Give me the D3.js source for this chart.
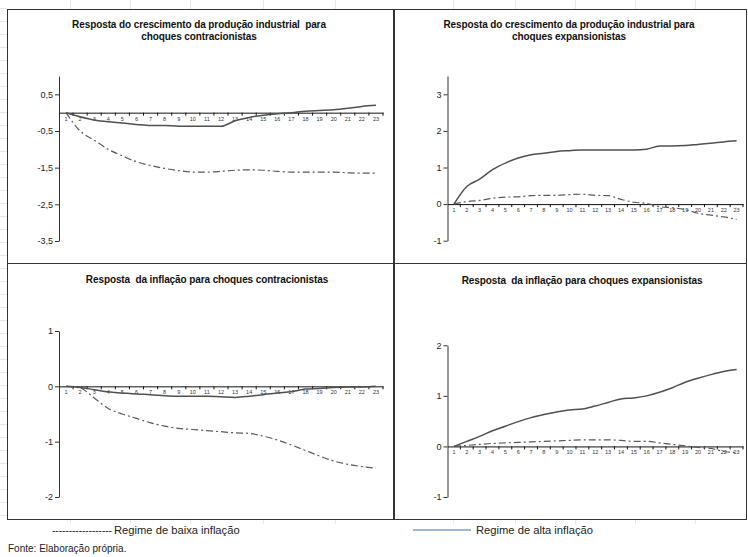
<!DOCTYPE html>
<html>
<head>
<meta charset="utf-8">
<script src="https://cdn.jsdelivr.net/npm/d3@7"></script>
<style>
  body { margin: 0; background: #fff; }
  svg { display: block; font-family: "Liberation Sans", Arial, sans-serif; }
  .ttl { white-space: pre; }
</style>
</head>
<body>
<div id="chart"></div>
<script>
// periods (categories on the x axis)
const periods = [1, 2, 3, 4, 5, 6, 7, 8, 9, 10, 11, 12, 13, 14, 15, 16, 17, 18, 19, 20, 21, 22, 23];

// produção industrial, choques contracionistas
const prodContrAlta  = [0, -0.11, -0.2, -0.25, -0.28, -0.32, -0.35, -0.35, -0.37, -0.37, -0.37, -0.37, -0.22, -0.13, -0.07, -0.03, 0, 0.04, 0.06, 0.08, 0.12, 0.17, 0.2];
const prodContrBaixa = [0, -0.5, -0.75, -1.0, -1.18, -1.34, -1.44, -1.52, -1.58, -1.62, -1.62, -1.6, -1.57, -1.56, -1.57, -1.6, -1.62, -1.62, -1.62, -1.62, -1.64, -1.65, -1.65];
const prodContrTicks = [0.5, -0.5, -1.5, -2.5, -3.5];

// produção industrial, choques expansionistas
const prodExpAlta  = [0, 0.48, 0.68, 0.94, 1.12, 1.26, 1.35, 1.39, 1.44, 1.46, 1.48, 1.48, 1.48, 1.48, 1.48, 1.5, 1.59, 1.59, 1.6, 1.63, 1.66, 1.7, 1.73];
const prodExpBaixa = [0, 0.07, 0.1, 0.16, 0.19, 0.2, 0.23, 0.24, 0.24, 0.26, 0.27, 0.24, 0.23, 0.13, 0.05, 0.02, -0.07, -0.1, -0.15, -0.25, -0.3, -0.35, -0.42];
const prodExpTicks = [3, 2, 1, 0, -1];

// inflação, choques contracionistas
const inflContrAlta  = [0, -0.02, -0.06, -0.1, -0.12, -0.14, -0.15, -0.17, -0.18, -0.18, -0.18, -0.19, -0.2, -0.18, -0.15, -0.12, -0.1, -0.05, -0.04, -0.02, -0.01, -0.01, 0];
const inflContrBaixa = [0, -0.03, -0.21, -0.4, -0.5, -0.58, -0.66, -0.72, -0.76, -0.78, -0.8, -0.82, -0.84, -0.85, -0.9, -0.97, -1.06, -1.16, -1.26, -1.35, -1.41, -1.45, -1.48];
const inflContrTicks = [1, 0, -1, -2];

// inflação, choques expansionistas
const inflExpAlta  = [0, 0.1, 0.2, 0.31, 0.4, 0.49, 0.57, 0.63, 0.68, 0.72, 0.74, 0.8, 0.87, 0.94, 0.96, 1.0, 1.07, 1.16, 1.27, 1.35, 1.42, 1.48, 1.52];
const inflExpBaixa = [0, 0.02, 0.04, 0.06, 0.07, 0.08, 0.09, 0.1, 0.11, 0.12, 0.13, 0.13, 0.13, 0.12, 0.1, 0.1, 0.07, 0.04, 0.01, -0.02, -0.04, -0.1, -0.12];
const inflExpTicks = [2, 1, 0, -1];

const width = 748, height = 557;
const svg = d3.select("#chart").append("svg")
  .attr("width", width).attr("height", height);

// faint spreadsheet gridlines behind the boxes
const bg = svg.append("g").attr("stroke", "#e8e8e8").attr("stroke-width", 1);
[70, 130, 190, 263, 335, 453, 515, 575, 635, 695].forEach(x => {
  bg.append("line").attr("x1", x + 0.5).attr("x2", x + 0.5).attr("y1", 0).attr("y2", 524);
});
d3.range(8, 520, 13).forEach(y => {
  bg.append("line").attr("x1", 0).attr("x2", 7).attr("y1", y + 0.5).attr("y2", y + 0.5);
});

const panels = [
  { box: [7, 9, 386, 254], title: ["Resposta do crescimento da produção industrial  para", "choques contracionistas"],
    tx: 199, ty: 28, xr: [59, 383], yd: [-3.5, 1], yr: [241, 76], ticks: prodContrTicks,
    alta: prodContrAlta, baixa: prodContrBaixa },
  { box: [394, 9, 352, 254], title: ["Resposta do crescimento da produção industrial para", "choques expansionistas"],
    tx: 569, ty: 28, xr: [447.5, 743], yd: [-1, 3.5], yr: [240.7, 76], ticks: prodExpTicks,
    alta: prodExpAlta, baixa: prodExpBaixa },
  { box: [7, 263, 386, 256], title: ["Resposta  da inflação para choques contracionistas"],
    tx: 207, ty: 283, xr: [59, 383], yd: [-2, 1], yr: [497, 331], ticks: inflContrTicks,
    alta: inflContrAlta, baixa: inflContrBaixa },
  { box: [394, 263, 352, 256], title: ["Resposta  da inflação para choques expansionistas"],
    tx: 582, ty: 284, xr: [447.5, 743], yd: [-1, 2], yr: [497, 345.3], ticks: inflExpTicks,
    alta: inflExpAlta, baixa: inflExpBaixa }
];

const fmt = d => String(d).replace(".", ",");

panels.forEach(p => {
  const g = svg.append("g");
  g.append("rect")
    .attr("x", p.box[0] + 0.5).attr("y", p.box[1] + 0.5)
    .attr("width", p.box[2]).attr("height", p.box[3])
    .attr("fill", "#fff").attr("stroke", "#333").attr("stroke-width", 1);

  g.append("text")
    .attr("class", "ttl")
    .attr("x", p.tx).attr("y", p.ty)
    .attr("text-anchor", "middle")
    .attr("font-size", "10px").attr("font-weight", "bold").attr("fill", "#111")
    .attr("letter-spacing", "-0.1px")
    .selectAll("tspan").data(p.title).enter().append("tspan")
    .attr("x", p.tx).attr("dy", (d, i) => i === 0 ? 0 : 12)
    .text(d => d);

  const x = d3.scaleBand().domain(periods).range(p.xr);
  const y = d3.scaleLinear().domain(p.yd).range(p.yr);
  const cx = d => x(d) + x.bandwidth() / 2;

  // y axis
  const ya = g.append("g")
    .attr("transform", "translate(" + p.xr[0] + ",0)")
    .call(d3.axisLeft(y).tickValues(p.ticks).tickFormat(fmt).tickSize(4).tickSizeOuter(0));
  ya.select(".domain").attr("stroke", "#333");
  ya.selectAll(".tick line").attr("stroke", "#333");
  ya.selectAll(".tick text").attr("font-size", "9px").attr("fill", "#222").attr("x", -6)
    .attr("font-family", "Liberation Sans, Arial, sans-serif");

  // category axis at zero
  const xa = g.append("g")
    .attr("transform", "translate(0," + y(0) + ")")
    .call(d3.axisBottom(x).tickSize(0).tickSizeOuter(0).tickPadding(4));
  xa.select(".domain").attr("stroke", "#111");
  xa.selectAll(".tick text").attr("font-size", "5.5px").attr("fill", "#333")
    .attr("font-family", "Liberation Sans, Arial, sans-serif");
  xa.selectAll(".sep").data(periods).enter().append("line")
    .attr("class", "sep")
    .attr("x1", d => x(d) + x.bandwidth()).attr("x2", d => x(d) + x.bandwidth())
    .attr("y1", 0).attr("y2", 3).attr("stroke", "#111");

  const line = d3.line()
    .x((d, i) => cx(periods[i]))
    .y(d => y(d))
    .curve(d3.curveMonotoneX);

  g.append("path").datum(p.baixa)
    .attr("d", line).attr("fill", "none")
    .attr("stroke", "#5a5a5a").attr("stroke-width", 1.2)
    .attr("stroke-dasharray", "7,3,2,3");

  g.append("path").datum(p.alta)
    .attr("d", line).attr("fill", "none")
    .attr("stroke", "#505050").attr("stroke-width", 1.5);
});

// legend
const lg = svg.append("g").attr("font-size", "11.2px").attr("fill", "#222");
lg.append("text").attr("x", 52).attr("y", 534).attr("font-size", "10px").text("------------------");
lg.append("text").attr("x", 114).attr("y", 534).text("Regime de baixa inflação");
lg.append("line").attr("x1", 413).attr("x2", 471).attr("y1", 530).attr("y2", 530)
  .attr("stroke", "#3b6ea8").attr("stroke-width", 1.2);
lg.append("text").attr("x", 476).attr("y", 534).text("Regime de alta inflação");

svg.append("text").attr("x", 8).attr("y", 552)
  .attr("font-size", "10px").attr("fill", "#222")
  .text("Fonte: Elaboração própria.");
</script>
</body>
</html>
